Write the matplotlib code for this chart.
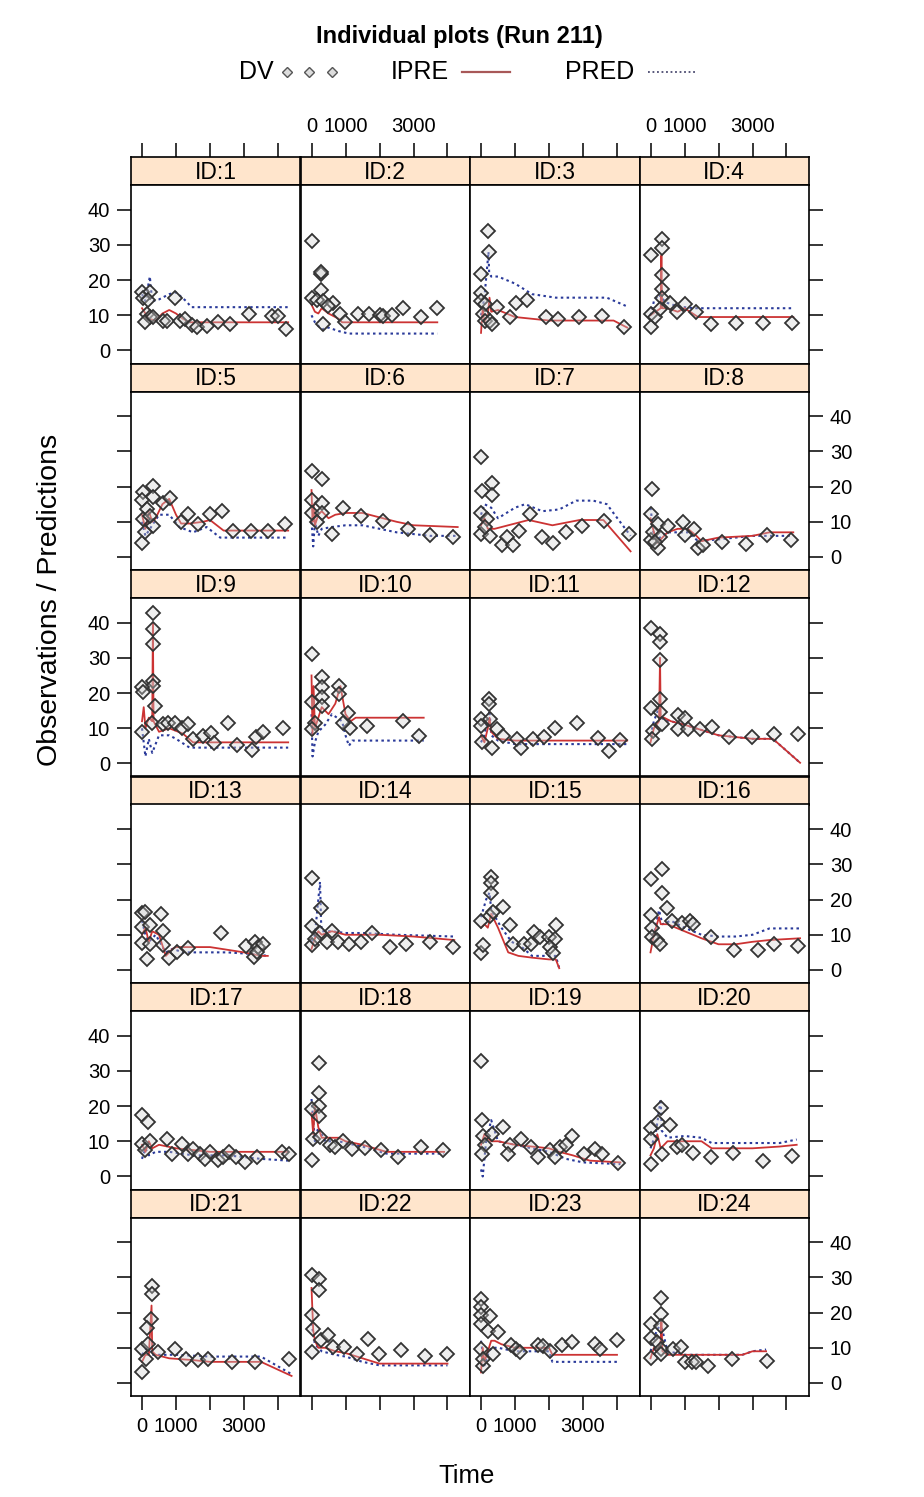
import matplotlib
matplotlib.use("Agg")
import matplotlib.pyplot as plt
from matplotlib.lines import Line2D

plt.rcParams['font.family'] = ['Liberation Sans', 'DejaVu Sans']

# observed concentrations (DV) per subject
dv_time = {
    1: [0, 235, 40, 186, 137, 235, 88, 333, 627, 725, 970, 1117, 1264, 1460, 1607, 1901, 2244, 2587, 3156, 3812, 4008, 4234],
    2: [0, 270, 270, 270, 0, 152, 348, 642, 495, 838, 985, 348, 1357, 1681, 2014, 2112, 2357, 2680, 3219, 3680],
    3: [216, 235, 0, 0, 0, 118, 49, 118, 265, 460, 313, 852, 1029, 1362, 1900, 2254, 2871, 3548, 4204],
    4: [328, 328, 0, 328, 328, 328, 0, 0, 132, 279, 573, 770, 1014, 1338, 1779, 2514, 3298, 4160],
    5: [0, 20, 333, 333, 333, 88, 627, 823, 1147, 1362, 1637, 2000, 2343, 2685, 3205, 3714, 4204, 0, 137, 40, 235],
    6: [0, 299, 5, 299, 5, 299, 152, 593, 936, 1455, 2112, 2827, 3484, 4150],
    7: [0, 20, 313, 313, 0, 265, 608, 774, 950, 1117, 1440, 1783, 2127, 2489, 2979, 3626, 4361, 0, 167, 118],
    8: [34, 0, 0, 230, 230, 524, 965, 1014, 1279, 1406, 1553, 2092, 2798, 3416, 4121, 83, 279, 132],
    9: [313, 313, 313, 313, 313, 0, 40, 382, 0, 284, 627, 774, 970, 1166, 1362, 1490, 1803, 2019, 2117, 2538, 2783, 3224, 3352, 3548, 4155],
    10: [0, 299, 299, 299, 5, 299, 818, 818, 1083, 1132, 936, 1641, 2680, 3160, 103, 5],
    11: [245, 245, 0, 265, 0, 460, 20, 313, 657, 1049, 1176, 1519, 1852, 2176, 2832, 3450, 3773, 4087],
    12: [0, 279, 279, 279, 279, 279, 0, 83, 34, 328, 818, 1014, 818, 1112, 1455, 1798, 2318, 2974, 3631, 4347],
    13: [0, 88, 549, 0, 235, 627, 0, 235, 137, 627, 804, 1019, 1362, 2313, 3058, 3322, 3420, 3567, 3293, 3371],
    14: [0, 270, 0, 0, 250, 103, 446, 593, 789, 1112, 1455, 1788, 2308, 2778, 3484, 4150],
    15: [284, 284, 284, 0, 265, 657, 853, 0, 69, 363, 950, 1274, 1470, 1568, 1734, 1999, 2176, 2205, 2029, 2127],
    16: [328, 0, 0, 328, 475, 34, 34, 181, 279, 622, 916, 1161, 1259, 1779, 2465, 3170, 3641, 4327],
    17: [0, 186, 0, 235, 88, 725, 872, 1166, 1362, 1509, 1705, 1852, 2000, 2225, 2372, 2558, 2764, 3028, 3371, 4106, 4332],
    18: [230, 230, 230, 230, 0, 5, 54, 250, 544, 691, 936, 1181, 1573, 2034, 2553, 3219, 3876],
    19: [0, 20, 637, 69, 313, 118, 20, 853, 804, 1166, 1460, 1666, 2029, 2176, 2323, 2489, 2685, 3028, 3352, 3548, 4038],
    20: [309, 0, 0, 0, 230, 573, 328, 770, 916, 1259, 1779, 2435, 3298, 4150],
    21: [0, 282, 282, 254, 155, 0, 183, 113, 465, 958, 1282, 1634, 1944, 2648, 3324, 4338],
    22: [0, 225, 225, 28, 0, 56, 268, 479, 620, 944, 1324, 1648, 1986, 2634, 3324, 3972],
    23: [0, 0, 0, 254, 0, 211, 493, 0, 70, 352, 70, 887, 1028, 1155, 1690, 1831, 2042, 2394, 2676, 3352, 3493, 4014],
    24: [310, 296, 0, 296, 0, 197, 296, 14, 296, 676, 887, 1028, 1211, 1352, 1704, 2408, 3437],
}
dv_conc = {
    1: [16.7, 16.7, 14.9, 14.4, 10.3, 9.4, 8.0, 9.4, 8.5, 8.5, 14.9, 8.5, 8.9, 7.1, 6.7, 6.9, 8.0, 7.4, 10.3, 9.9, 9.9, 6.2],
    2: [31.1, 21.7, 22.4, 17.2, 14.9, 14.4, 14.0, 13.5, 12.6, 10.3, 8.0, 7.5, 10.4, 10.4, 10.2, 9.7, 10.2, 12.1, 9.4, 12.2],
    3: [34.0, 28.1, 21.7, 16.3, 14.0, 13.1, 10.3, 8.5, 8.5, 12.3, 7.6, 9.6, 13.4, 14.2, 9.6, 8.9, 9.4, 9.9, 6.7],
    4: [31.8, 29.0, 27.2, 21.3, 17.6, 14.9, 10.3, 6.7, 9.4, 11.7, 13.5, 10.8, 13.1, 10.8, 7.6, 7.8, 7.8, 7.8],
    5: [3.9, 18.5, 20.3, 17.1, 8.9, 7.1, 15.3, 16.7, 9.8, 12.1, 9.4, 12.1, 13.0, 7.5, 7.5, 7.5, 9.4, 16.2, 13.5, 10.7, 11.6],
    6: [24.4, 22.1, 16.2, 15.3, 12.6, 12.6, 9.8, 6.6, 13.9, 11.6, 10.3, 8.0, 6.2, 5.7],
    7: [28.5, 18.8, 21.0, 17.6, 6.6, 6.0, 3.4, 5.7, 3.4, 7.5, 12.1, 5.7, 3.9, 7.1, 8.9, 10.3, 6.6, 12.6, 10.7, 8.4],
    8: [19.4, 12.1, 4.8, 2.5, 9.4, 8.9, 9.8, 6.2, 8.0, 2.5, 3.4, 4.3, 3.6, 6.2, 4.8, 7.1, 5.7, 4.3],
    9: [42.6, 38.1, 34.0, 23.5, 22.1, 21.8, 20.3, 16.2, 8.9, 11.6, 11.1, 11.6, 11.6, 10.2, 11.1, 7.0, 7.9, 8.7, 5.7, 11.6, 5.2, 3.8, 7.5, 9.0, 10.2],
    10: [31.2, 24.7, 21.6, 18.9, 17.5, 16.2, 22.1, 19.8, 14.3, 10.2, 11.6, 10.7, 12.1, 7.7, 11.6, 9.8],
    11: [18.4, 16.9, 12.7, 12.7, 10.7, 9.8, 6.1, 4.3, 7.9, 7.0, 4.5, 7.0, 7.5, 10.2, 11.6, 7.3, 3.6, 6.8],
    12: [38.5, 36.9, 34.4, 29.4, 18.4, 14.5, 15.7, 9.3, 7.0, 11.1, 13.7, 13.0, 9.8, 9.8, 9.8, 10.4, 7.5, 7.5, 8.4, 8.4],
    13: [16.1, 16.6, 15.8, 12.2, 12.9, 11.1, 7.6, 7.4, 3.1, 7.0, 3.3, 5.2, 6.1, 10.6, 6.7, 7.9, 6.5, 7.4, 3.8, 5.2],
    14: [26.2, 17.5, 12.5, 7.0, 10.6, 8.8, 7.9, 11.1, 7.9, 7.4, 7.9, 10.4, 6.5, 7.4, 7.9, 6.5],
    15: [26.4, 24.6, 21.9, 13.8, 15.2, 17.9, 12.9, 4.7, 7.0, 16.6, 7.4, 7.4, 7.4, 10.8, 9.3, 9.3, 8.8, 12.9, 6.5, 4.7],
    16: [28.6, 25.7, 15.7, 21.9, 17.7, 12.0, 9.3, 8.4, 7.3, 13.8, 13.4, 14.0, 13.1, 9.3, 5.8, 5.8, 7.4, 6.7],
    17: [17.4, 15.6, 9.2, 10.1, 7.4, 10.6, 6.3, 9.2, 6.5, 7.9, 6.5, 5.1, 6.9, 4.7, 5.6, 6.9, 5.6, 4.2, 5.6, 6.9, 6.5],
    18: [32.2, 23.6, 19.9, 17.3, 19.3, 4.7, 10.6, 11.1, 8.8, 8.3, 10.1, 7.9, 8.0, 7.4, 5.6, 8.3, 7.6],
    19: [32.7, 15.9, 14.1, 11.5, 12.0, 8.8, 6.5, 8.8, 6.5, 10.6, 8.3, 5.6, 7.4, 5.6, 8.3, 8.8, 11.5, 6.3, 7.9, 6.3, 3.9],
    20: [19.5, 13.8, 10.6, 3.6, 15.6, 14.7, 6.5, 8.3, 8.9, 6.8, 5.6, 6.7, 4.5, 5.8],
    21: [3.2, 27.5, 25.2, 18.2, 15.7, 9.7, 11.2, 6.7, 8.7, 9.7, 6.9, 6.4, 6.9, 5.9, 5.9, 6.9],
    22: [30.7, 29.4, 26.5, 19.2, 8.7, 15.2, 12.2, 13.7, 10.2, 10.2, 8.2, 12.4, 8.2, 9.4, 7.7, 8.2],
    23: [23.9, 21.7, 19.2, 18.9, 16.7, 14.9, 14.5, 9.7, 4.7, 8.2, 6.7, 10.9, 9.7, 8.7, 10.9, 10.4, 9.2, 10.9, 11.7, 11.2, 9.7, 12.2],
    24: [24.2, 19.7, 16.7, 16.2, 12.9, 11.7, 9.7, 7.2, 8.2, 9.7, 10.2, 5.9, 5.9, 5.9, 4.7, 6.7, 6.2],
}

# individual predictions (IPRE)
ipre_time = {
    1: [0, 100, 200, 400, 600, 800, 1000, 1200, 1400, 4300],
    2: [0, 100, 200, 300, 500, 800, 900, 3700],
    3: [0, 50, 100, 200, 250, 300, 500, 1000, 2000, 3000, 3900, 4300],
    4: [0, 150, 300, 320, 340, 500, 800, 1000, 1400, 4200],
    5: [0, 100, 200, 300, 400, 600, 800, 1000, 1150, 1400, 1800, 2000, 2400, 4300],
    6: [0, 30, 60, 100, 200, 300, 500, 700, 1000, 1500, 2500, 3000, 4300],
    7: [0, 100, 200, 400, 1400, 2100, 2900, 3600, 4400],
    8: [0, 100, 200, 500, 800, 1100, 1350, 1500, 2000, 3000, 3500, 4200],
    9: [0, 50, 100, 200, 300, 320, 340, 500, 800, 1200, 1500, 2000, 4300],
    10: [0, 30, 60, 100, 200, 300, 500, 700, 850, 1000, 1150, 1300, 3300],
    11: [0, 100, 200, 250, 300, 500, 1000, 4300],
    12: [0, 100, 250, 280, 300, 400, 600, 1000, 1500, 2000, 3000, 3600, 4400],
    13: [0, 100, 200, 300, 500, 700, 900, 1000, 2000, 3000, 3500, 3700],
    14: [0, 100, 200, 300, 600, 1000, 1500, 2000, 3000, 4200],
    15: [0, 100, 200, 300, 500, 800, 1100, 1500, 2000, 2200, 2300],
    16: [0, 100, 250, 300, 500, 1000, 1500, 2000, 2500, 3000, 3500, 4400],
    17: [0, 100, 200, 300, 500, 1000, 1500, 2000, 3000, 4300],
    18: [0, 50, 100, 200, 300, 500, 800, 1000, 1500, 2200, 3000, 3900],
    19: [0, 100, 300, 500, 1000, 1500, 2000, 2300, 2700, 3200, 4100],
    20: [0, 100, 200, 300, 500, 1000, 1500, 1800, 3000, 3800, 4300],
    21: [0, 100, 200, 280, 300, 400, 800, 1500, 2000, 3500, 4400],
    22: [0, 50, 100, 200, 400, 700, 1000, 1500, 2000, 4000],
    23: [0, 50, 100, 200, 300, 400, 600, 1000, 1500, 2000, 2100, 4000],
    24: [0, 100, 200, 300, 320, 350, 500, 1000, 2000, 2700, 3000, 3400],
}
ipre_conc = {
    1: [12, 10.5, 9, 8.5, 10.5, 11.5, 10.5, 9, 8, 8],
    2: [13, 11, 10.5, 12, 10.5, 9, 8, 8],
    3: [5, 12, 8, 10, 15, 11, 11.5, 9.5, 8.5, 8.5, 8.5, 6.5],
    4: [10, 11, 12, 27, 12, 12, 11, 12, 9.5, 9.5],
    5: [12, 8, 13, 10, 11, 15, 16.5, 12, 9.5, 9.5, 10, 10.5, 7.5, 7.5],
    6: [19, 10, 15, 9, 12, 13, 11, 12, 12.5, 12.5, 10, 9, 8.5],
    7: [9, 11, 8, 8, 10.5, 9, 10.5, 10.5, 1.6],
    8: [11, 7, 4, 7, 8, 8, 6, 4.5, 5.5, 6, 7, 7],
    9: [12, 16, 10, 13, 12, 40, 12, 9, 10, 8.5, 6, 6, 6],
    10: [25, 8, 22, 10, 13, 16, 14, 17, 22, 14, 12, 13, 13],
    11: [8, 6, 10, 13, 9, 7, 6.5, 6.5],
    12: [6, 10, 12, 30, 13, 13, 12, 11, 9.5, 8, 7, 7, 0.2],
    13: [10, 12, 8, 11, 10, 4, 6, 6.5, 6.5, 5, 4, 4],
    14: [6, 9, 11, 10, 11, 10, 10, 10, 9.5, 8.5],
    15: [12, 13, 12, 16, 12, 5, 4, 3.5, 3, 3, 0.5],
    16: [5, 10, 15, 13, 13, 11, 9, 7.3, 7.3, 8, 8.5, 9],
    17: [9, 7, 10, 8, 9, 8, 7.5, 7, 7, 7],
    18: [18, 12, 20, 14, 11, 11, 11, 10, 9, 7, 7, 7],
    19: [9, 12, 10, 10, 9, 8.5, 8, 7, 6, 4.5, 4],
    20: [6, 8, 12, 8, 10, 10, 10, 8, 8, 8.5, 9],
    21: [6, 8, 8, 22, 9, 8, 7, 6.5, 6, 6, 2],
    22: [27, 15, 12, 10, 10, 9, 8.5, 7, 5.5, 5.5],
    23: [3, 10, 6, 9, 12, 12, 11, 10, 10, 10, 8, 8],
    24: [7, 10, 9, 12, 18, 9, 8, 8, 8, 8, 9, 9],
}

# population predictions (PRED)
pred_time = {
    1: [0, 100, 230, 300, 500, 800, 1000, 1300, 1450, 4300],
    2: [0, 100, 200, 300, 500, 800, 1100, 3700],
    3: [0, 100, 220, 240, 300, 500, 1000, 1500, 2200, 3700, 4300],
    4: [0, 100, 250, 300, 500, 800, 1300, 4200],
    5: [0, 100, 300, 500, 800, 1100, 1500, 1900, 2300, 4300],
    6: [0, 50, 100, 200, 300, 600, 1000, 1500, 2500, 3500, 4300],
    7: [0, 100, 300, 500, 1000, 1300, 1800, 2300, 2800, 3300, 3700, 4400],
    8: [0, 100, 200, 500, 800, 1100, 1400, 2000, 3000, 4200],
    9: [0, 100, 200, 300, 500, 800, 1000, 1400, 4300],
    10: [0, 30, 100, 200, 400, 600, 900, 1000, 1100, 1200, 3300],
    11: [0, 100, 250, 300, 500, 1000, 4300],
    12: [0, 100, 250, 300, 400, 600, 1000, 1500, 2000, 3000, 3600, 4400],
    13: [0, 100, 200, 400, 700, 900, 1200, 2500, 3300, 3700],
    14: [0, 100, 250, 280, 300, 600, 1000, 1500, 2500, 4200],
    15: [0, 150, 250, 300, 600, 900, 1200, 1500, 2000, 2200, 2300],
    16: [0, 100, 250, 350, 600, 1000, 1500, 2000, 2500, 3000, 3500, 4400],
    17: [0, 100, 200, 400, 800, 1500, 2500, 3500, 4300],
    18: [0, 100, 200, 400, 800, 1000, 1500, 2200, 3900],
    19: [0, 50, 150, 300, 500, 1000, 1500, 2000, 2500, 3000, 4100],
    20: [0, 150, 300, 330, 500, 1000, 1500, 1800, 3000, 3800, 4300],
    21: [0, 150, 300, 500, 1000, 2000, 3500, 4400],
    22: [0, 100, 300, 700, 1000, 1500, 2000, 4000],
    23: [0, 100, 200, 300, 500, 1000, 1500, 2000, 2100, 4000],
    24: [0, 150, 300, 500, 1000, 2000, 2700, 3000, 3400],
}
pred_conc = {
    1: [16, 14, 21, 14, 14.5, 16, 16.5, 14, 12.3, 12.3],
    2: [10, 8, 7, 6, 6.5, 5.5, 4.8, 4.8],
    3: [10, 15, 28, 22, 21, 21, 19, 16, 15, 15, 12.5],
    4: [10, 14, 16, 15, 13.5, 12.5, 12, 12],
    5: [10, 6, 9, 12, 12, 8.5, 7, 8.5, 5.5, 5.5],
    6: [10, 3, 10, 6, 8, 8.5, 9, 9, 7, 6, 6],
    7: [12, 15, 14, 11, 14, 15, 13, 13.5, 16, 16, 15, 6],
    8: [14, 6, 5, 7, 7, 7, 4.5, 5, 6, 6],
    9: [10, 2, 7, 3, 8, 8, 7, 4.5, 4.5],
    10: [14, 2, 6, 9, 11, 14, 12, 8, 5, 6.5, 6.5],
    11: [6, 8, 15, 8, 6.5, 5.5, 5.5],
    12: [8, 12, 16, 13, 12.5, 12, 11, 9.5, 8, 7, 7, 0.2],
    13: [14, 10, 8, 10, 5, 6, 5, 5, 4.5, 4],
    14: [8, 10, 25, 14, 11, 11, 10.5, 10.5, 10, 9.5],
    15: [15, 20, 22, 17, 12, 8, 6.5, 4, 4, 4, 0.5],
    16: [8, 10, 17, 13, 14, 12, 10, 9.5, 9.5, 10, 11.8, 11.8],
    17: [5, 8, 6, 7, 7, 6, 6, 5, 4.5],
    18: [22, 10, 14, 10, 10, 9.5, 8.5, 6.5, 6.5],
    19: [2, 0, 10, 16, 10, 9, 8, 7, 5, 4, 3.5],
    20: [8, 12, 22, 13, 11, 11.5, 11, 9.5, 9.5, 9.5, 10.5],
    21: [8, 10, 8, 8, 8, 7.5, 7.5, 2.5],
    22: [17, 11, 9, 8, 7.5, 6, 5, 5],
    23: [12, 5, 8, 10, 10, 9, 9, 9, 6, 6],
    24: [9, 14, 17, 9, 8, 8, 8, 9, 9.5],
}

x_ticks = [0, 1000, 2000, 3000, 4000]
x_ticklabels = ['0', '1000', '', '3000', '']
y_ticks = [0, 10, 20, 30, 40]

STRIP = '#ffe5cc'
RED = '#cc3333'
BLUE = '#2a3a9a'

W, H = 924, 1497
fig = plt.figure(figsize=(W / 100, H / 100), dpi=100)


def rect(x0, y0, x1, y1):
    return [x0 / W, 1 - y1 / H, (x1 - x0) / W, (y1 - y0) / H]


L, CW, T, RH, SH = 131, 169.5, 157, 206.5, 28
XLIM = (-324, 4662)
YLIM = (-3.7, 47)
TICK = dict(direction='out', length=10, width=1.1, labelsize=14.5, pad=5)

for k in range(24):
    r, c = divmod(k, 4)
    pid = k + 1
    x0 = L + c * CW
    x1 = x0 + CW
    ys = T + r * RH
    yp = ys + SH
    yb = T + (r + 1) * RH

    sax = fig.add_axes(rect(x0, ys, x1, yp))
    sax.set_facecolor(STRIP)
    sax.set_xlim(XLIM)
    sax.set_ylim(0, 1)
    sax.set_yticks([])
    sax.text(0.5, 0.45, 'ID:%d' % pid, transform=sax.transAxes,
             ha='center', va='center', fontsize=16.5)
    if r == 0:
        sax.xaxis.tick_top()
        sax.set_xticks(x_ticks)
        sax.set_xticklabels(x_ticklabels if c in (1, 3) else [''] * 5)
        sax.tick_params(axis='x', **TICK)
    else:
        sax.set_xticks([])
    for s in sax.spines.values():
        s.set_linewidth(1.2)

    ax = fig.add_axes(rect(x0, yp, x1, yb))
    ax.plot(pred_time[pid], pred_conc[pid], color=BLUE, lw=1.5,
            ls=(0, (1.2, 1.6)), zorder=2)
    ax.plot(ipre_time[pid], ipre_conc[pid], color=RED, lw=1.3, zorder=2)
    ax.plot(dv_time[pid], dv_conc[pid], ls='none', marker='D', ms=7.5,
            mfc=(0.82, 0.82, 0.82, 0.35), mec='#333333', mew=1.3, zorder=3)
    ax.set_xlim(XLIM)
    ax.set_ylim(YLIM)
    ax.set_xticks(x_ticks)
    ax.set_xticklabels(x_ticklabels if (r == 5 and c in (0, 2)) else [''] * 5)
    ax.set_yticks(y_ticks)
    ax.tick_params(axis='x', bottom=(r == 5), top=False, **TICK)
    ax.tick_params(axis='y', left=(c == 0), right=(c == 3),
                   labelleft=(c == 0 and r % 2 == 0),
                   labelright=(c == 3 and r % 2 == 1), **TICK)
    for s in ax.spines.values():
        s.set_linewidth(1.2)

# title, legend and axis labels
fig.text(459 / W, 1 - 36 / H, 'Individual plots (Run 211)', ha='center',
         va='center', fontsize=17, fontweight='bold')
ly = 1 - 72 / H
fig.text(256 / W, ly, 'DV', ha='center', va='center', fontsize=18)
fig.add_artist(Line2D([287 / W, 309 / W, 332 / W], [ly] * 3, ls='none',
                      marker='D', ms=5.5, mfc='#dddddd', mec='#555555',
                      mew=1.0, transform=fig.transFigure))
fig.text(420 / W, ly, 'IPRE', ha='center', va='center', fontsize=18)
fig.add_artist(Line2D([462 / W, 510 / W], [ly, ly], color='#a85858', lw=1.6,
                      transform=fig.transFigure))
fig.text(600 / W, ly, 'PRED', ha='center', va='center', fontsize=18)
fig.add_artist(Line2D([648 / W, 697 / W], [ly, ly], color='#4a4a70', lw=1.3,
                      ls=(0, (1, 1.5)), transform=fig.transFigure))

fig.text(50 / W, 1 - 600 / H, 'Observations / Predictions', rotation=90,
         ha='center', va='center', fontsize=20.5)
fig.text(467 / W, 1 - 1476 / H, 'Time', ha='center', va='center', fontsize=18.5)

fig.savefig('out.png', dpi=100)
